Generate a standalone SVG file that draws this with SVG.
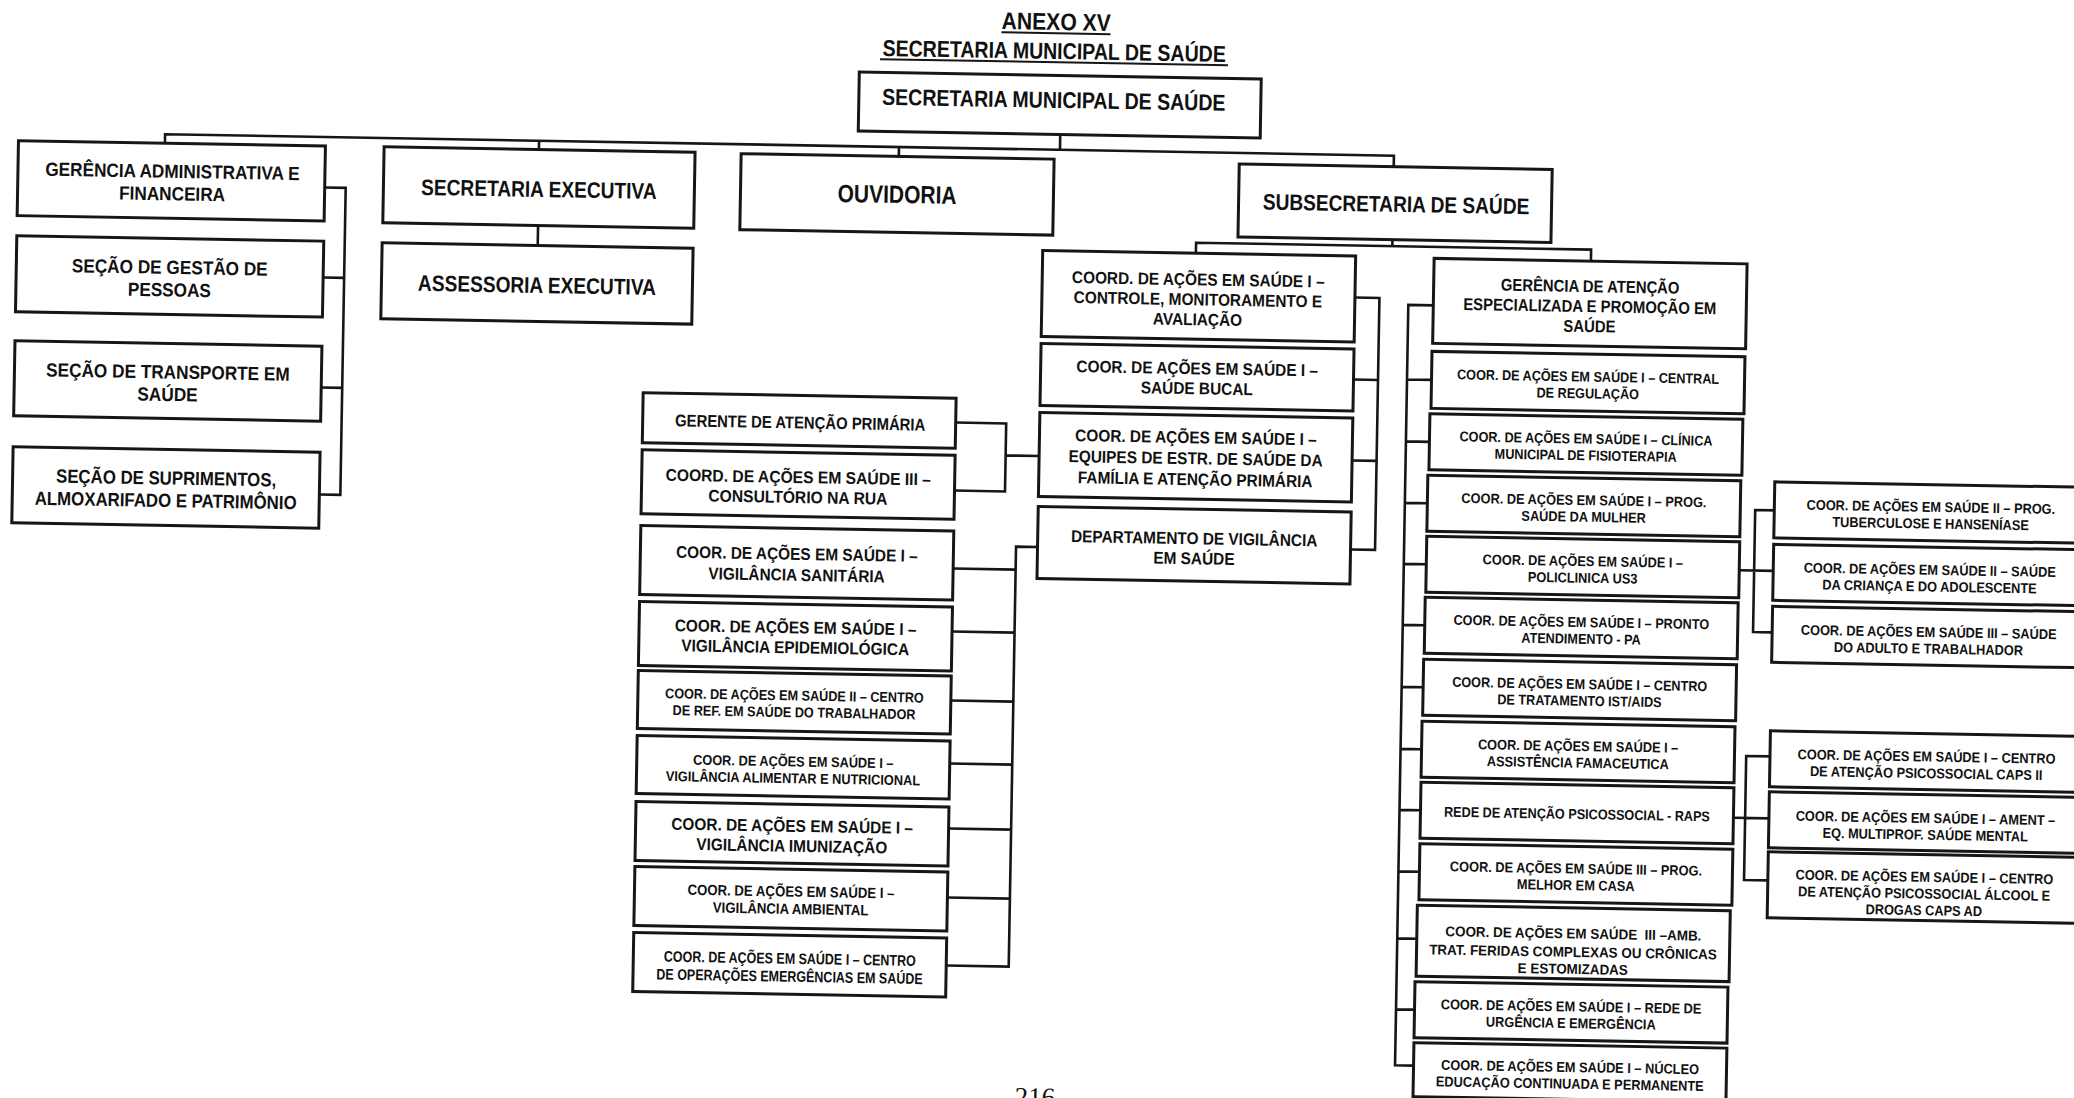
<svg xmlns="http://www.w3.org/2000/svg" width="2074" height="1098" viewBox="0 0 2074 1098">
<style>
.b{fill:#fff;stroke:#161616;stroke-width:3}
.c path{fill:none;stroke:#161616;stroke-width:2.6}
.u{stroke:#161616;stroke-width:2}
text{font-family:"Liberation Sans",Arial,sans-serif;font-weight:700;fill:#111;text-anchor:middle}
.a{font-size:25px}.d{font-size:23px}.e{font-size:22.5px}.f{font-size:19px}.g{font-size:17px}.h{font-size:17px}.k{font-size:14.2px}.m{font-size:14.8px}.n{font-size:15.3px}
.pg{font-family:"Liberation Serif","Times New Roman",serif;font-weight:400;font-size:27px}
</style>
<rect width="2074" height="1098" fill="#fff"/>
<g transform="rotate(1 1037 549)">
<g id="title">
<g transform="translate(1047 29.7) scale(.88 1)"><text style="font-size:24px">ANEXO XV</text></g>
<line class="u" x1="992.5" y1="33" x2="1101.5" y2="33"/>
<g transform="translate(1045.5 58.7) scale(.85 1)"><text class="d">SECRETARIA MUNICIPAL DE SAÚDE</text></g>
<line class="u" x1="871.5" y1="62" x2="1219.5" y2="62"/>
</g>
<g id="connectors" class="c">
<path d="M1053 134.1V149.5"/>
<path d="M158 158.5V149.5H1387V160.5"/>
<path d="M532 149.5V158.2"/>
<path d="M892 149.5V158.9"/>
<path d="M532.5 234.2V254.2"/>
<path d="M318.5 200H339.5V507H318.5M318.5 290H339.5M318.5 400H339.5"/>
<path d="M1387 233.5V240M1190.7 250.5V240H1585.8V251.5"/>
<path d="M1350.5 292H1375V544H1350.5M1350.5 374H1375M1350.5 455H1375"/>
<path d="M953.5 424H1004V492H953.5M1004 456H1037.5"/>
<path d="M1037.5 547H1016V967H953.5M953.5 570H1016M953.5 633H1016M953.5 702H1016M953.5 765H1016M953.5 830H1016M953.5 899H1016"/>
<path d="M1429 298.5H1404V1059H1422.5M1428.5 373H1404M1427.5 435H1404M1426.5 496.5H1404M1426.5 557.5H1404M1426 618.5H1404M1425.5 680.5H1404M1425 742.5H1404M1425 803.5H1404M1425 865H1404M1423.5 932H1404M1422.5 1003H1404"/>
<path d="M1773.5 497.5H1754.4V619.5H1773.5M1739.5 558H1773.5"/>
<path d="M1773.5 743.6H1749.7V867.6H1773.5M1738 805.6H1773.5"/>
</g>
<g id="n-sms"><rect class="b" x="851" y="75.1" width="402" height="59"/><g transform="translate(1046 104.6) scale(.85 1)"><text class="d" y="3">SECRETARIA MUNICIPAL DE SAÚDE</text></g></g>
<g id="n-gaf"><rect class="b" x="11.5" y="158.5" width="307" height="75"/><g transform="translate(166 196) scale(.906 1)"><text class="f" y="-3">GERÊNCIA ADMINISTRATIVA E</text><text class="f" y="19.5">FINANCEIRA</text></g></g>
<g id="n-sgp"><rect class="b" x="11.5" y="253.6" width="307" height="76"/><g transform="translate(165 291.6) scale(.906 1)"><text class="f" y="-2.5">SEÇÃO DE GESTÃO DE</text><text class="f" y="20">PESSOAS</text></g></g>
<g id="n-sts"><rect class="b" x="11.5" y="358.7" width="307" height="75"/><g transform="translate(165 396.2) scale(.906 1)"><text class="f" y="-2.5">SEÇÃO DE TRANSPORTE EM</text><text class="f" y="20">SAÚDE</text></g></g>
<g id="n-ssa"><rect class="b" x="11.5" y="464.7" width="307" height="76"/><g transform="translate(165 502.7) scale(.885 1)"><text class="f" y="-3">SEÇÃO DE SUPRIMENTOS,</text><text class="f" y="19.5">ALMOXARIFADO E PATRIMÔNIO</text></g></g>
<g id="n-se"><rect class="b" x="377.2" y="158.2" width="311" height="76"/><g transform="translate(532.7 196.2) scale(.85 1)"><text class="e" y="9.5">SECRETARIA EXECUTIVA</text></g></g>
<g id="n-ae"><rect class="b" x="376.9" y="254.2" width="311" height="76"/><g transform="translate(532.4 292.2) scale(.85 1)"><text class="e" y="9.5">ASSESSORIA EXECUTIVA</text></g></g>
<g id="n-ouv"><rect class="b" x="734.3" y="158.9" width="313" height="76"/><g transform="translate(891 196.9) scale(.84 1)"><text class="a" y="8.5">OUVIDORIA</text></g></g>
<g id="n-sub"><rect class="b" x="1232.5" y="160.5" width="313" height="73"/><g transform="translate(1390 197) scale(.85 1)"><text class="e" y="8.7">SUBSECRETARIA DE SAÚDE</text></g></g>
<g id="n-cma"><rect class="b" x="1037.5" y="250.5" width="313" height="86"/><g transform="translate(1193.5 293.5) scale(.906 1)"><text class="g" y="-11">COORD. DE AÇÕES EM SAÚDE I –</text><text class="g" y="9">CONTROLE, MONITORAMENTO E</text><text class="g" y="29">AVALIAÇÃO</text></g></g>
<g id="n-sb"><rect class="b" x="1037.5" y="343.5" width="313" height="62"/><g transform="translate(1194 374.5) scale(.906 1)"><text class="g" y="-3">COOR. DE AÇÕES EM SAÚDE I –</text><text class="g" y="17">SAÚDE BUCAL</text></g></g>
<g id="n-eq"><rect class="b" x="1037.5" y="412.5" width="313" height="84"/><g transform="translate(1194 454.5) scale(.906 1)"><text class="g" y="-14">COOR. DE AÇÕES EM SAÚDE I –</text><text class="g" y="7">EQUIPES DE ESTR. DE SAÚDE DA</text><text class="g" y="28">FAMÍLIA E ATENÇÃO PRIMÁRIA</text></g></g>
<g id="n-dvs"><rect class="b" x="1037.5" y="506.5" width="313" height="72"/><g transform="translate(1194 542.5) scale(.906 1)"><text class="g" y="-1">DEPARTAMENTO DE VIGILÂNCIA</text><text class="g" y="19">EM SAÚDE</text></g></g>
<g id="n-gap"><rect class="b" x="640.5" y="399.6" width="313" height="50"/><g transform="translate(798 424.6) scale(.875 1)"><text class="h" y="8">GERENTE DE ATENÇÃO PRIMÁRIA</text></g></g>
<g id="n-ccr"><rect class="b" x="640.5" y="456.7" width="313" height="64"/><g transform="translate(797 488.7) scale(.921 1)"><text class="g" y="-1.5">COORD. DE AÇÕES EM SAÚDE III –</text><text class="g" y="18.5">CONSULTÓRIO NA RUA</text></g></g>
<g id="n-vs"><rect class="b" x="640.5" y="532.5" width="313" height="69"/><g transform="translate(797 567) scale(.906 1)"><text class="g" y="-3">COOR. DE AÇÕES EM SAÚDE I –</text><text class="g" y="18">VIGILÂNCIA SANITÁRIA</text></g></g>
<g id="n-ve"><rect class="b" x="640.5" y="608.5" width="313" height="64"/><g transform="translate(797 640.5) scale(.906 1)"><text class="g" y="-3">COOR. DE AÇÕES EM SAÚDE I –</text><text class="g" y="17">VIGILÂNCIA EPIDEMIOLÓGICA</text></g></g>
<g id="n-cr"><rect class="b" x="640.5" y="677.5" width="313" height="58"/><g transform="translate(797 706.5) scale(.89 1)"><text class="k" y="-1.9">COOR. DE AÇÕES EM SAÚDE II – CENTRO</text><text class="k" y="14.9">DE REF. EM SAÚDE DO TRABALHADOR</text></g></g>
<g id="n-va"><rect class="b" x="640.5" y="742.5" width="313" height="58"/><g transform="translate(797 771.5) scale(.9 1)"><text class="k" y="-0.9">COOR. DE AÇÕES EM SAÚDE I –</text><text class="k" y="15.9">VIGILÂNCIA ALIMENTAR E NUTRICIONAL</text></g></g>
<g id="n-vi"><rect class="b" x="640.5" y="808.5" width="313" height="59"/><g transform="translate(797 838) scale(.906 1)"><text class="g" y="-2">COOR. DE AÇÕES EM SAÚDE I –</text><text class="g" y="18">VIGILÂNCIA IMUNIZAÇÃO</text></g></g>
<g id="n-vam"><rect class="b" x="640.5" y="873.5" width="313" height="59"/><g transform="translate(797 903) scale(.892 1)"><text class="m" y="-2.2">COOR. DE AÇÕES EM SAÚDE I –</text><text class="m" y="15.2">VIGILÂNCIA AMBIENTAL</text></g></g>
<g id="n-coe"><rect class="b" x="640.5" y="939.5" width="313" height="59"/><g transform="translate(797 969) scale(.816 1)"><text class="n" y="-1">COOR. DE AÇÕES EM SAÚDE I – CENTRO</text><text class="n" y="17">DE OPERAÇÕES EMERGÊNCIAS EM SAÚDE</text></g></g>
<g id="n-gae"><rect class="b" x="1429" y="251.5" width="313" height="85"/><g transform="translate(1585.5 294) scale(.875 1)"><text class="h" y="-11.5">GERÊNCIA DE ATENÇÃO</text><text class="h" y="8.5">ESPECIALIZADA E PROMOÇÃO EM</text><text class="h" y="28.5">SAÚDE</text></g></g>
<g id="n-cre"><rect class="b" x="1428.5" y="344.5" width="313" height="57"/><g transform="translate(1585 373) scale(.89 1)"><text class="k" y="-1">COOR. DE AÇÕES EM SAÚDE I – CENTRAL</text><text class="k" y="15.7">DE REGULAÇÃO</text></g></g>
<g id="n-cmf"><rect class="b" x="1427.5" y="407" width="313" height="56"/><g transform="translate(1584 435) scale(.89 1)"><text class="k" y="-1">COOR. DE AÇÕES EM SAÚDE I – CLÍNICA</text><text class="k" y="15.7">MUNICIPAL DE FISIOTERAPIA</text></g></g>
<g id="n-psm"><rect class="b" x="1426.5" y="468.5" width="313" height="56"/><g transform="translate(1583 496.5) scale(.9 1)"><text class="k" y="-1">COOR. DE AÇÕES EM SAÚDE I – PROG.</text><text class="k" y="15.7">SAÚDE DA MULHER</text></g></g>
<g id="n-pol"><rect class="b" x="1426.5" y="529.5" width="313" height="56"/><g transform="translate(1583 557.5) scale(.9 1)"><text class="k" y="-1">COOR. DE AÇÕES EM SAÚDE I –</text><text class="k" y="15.7">POLICLINICA US3</text></g></g>
<g id="n-pa"><rect class="b" x="1426" y="590.5" width="313" height="56"/><g transform="translate(1582.5 618.5) scale(.89 1)"><text class="k" y="-1">COOR. DE AÇÕES EM SAÚDE I – PRONTO</text><text class="k" y="15.7">ATENDIMENTO - PA</text></g></g>
<g id="n-ist"><rect class="b" x="1425.5" y="652.5" width="313" height="56"/><g transform="translate(1582 680.5) scale(.89 1)"><text class="k" y="-1">COOR. DE AÇÕES EM SAÚDE I – CENTRO</text><text class="k" y="15.7">DE TRATAMENTO IST/AIDS</text></g></g>
<g id="n-af"><rect class="b" x="1425" y="714.5" width="313" height="56"/><g transform="translate(1581.5 742.5) scale(.9 1)"><text class="k" y="-1">COOR. DE AÇÕES EM SAÚDE I –</text><text class="k" y="15.7">ASSISTÊNCIA FAMACEUTICA</text></g></g>
<g id="n-raps"><rect class="b" x="1425" y="775.5" width="313" height="56"/><g transform="translate(1581.5 803.5) scale(.89 1)"><text class="k" y="6">REDE DE ATENÇÃO PSICOSSOCIAL - RAPS</text></g></g>
<g id="n-mec"><rect class="b" x="1425" y="837" width="313" height="56"/><g transform="translate(1581.5 865) scale(.9 1)"><text class="k" y="-1">COOR. DE AÇÕES EM SAÚDE III – PROG.</text><text class="k" y="15.7">MELHOR EM CASA</text></g></g>
<g id="n-fer"><rect class="b" x="1423.5" y="898.5" width="313" height="71"/><g transform="translate(1580 934) scale(.946 1)"><text class="k" y="-5" xml:space="preserve">COOR. DE AÇÕES EM SAÚDE  III –AMB.</text><text class="k" y="13.5">TRAT. FERIDAS COMPLEXAS OU CRÔNICAS</text><text class="k" y="30.5">E ESTOMIZADAS</text></g></g>
<g id="n-urg"><rect class="b" x="1422.5" y="975" width="313" height="56"/><g transform="translate(1579 1003) scale(.9 1)"><text class="k" y="-1">COOR. DE AÇÕES EM SAÚDE I – REDE DE</text><text class="k" y="15.7">URGÊNCIA E EMERGÊNCIA</text></g></g>
<g id="n-nuc"><rect class="b" x="1422.5" y="1036" width="313" height="54"/><g transform="translate(1579 1063) scale(.9 1)"><text class="k" y="-0.4">COOR. DE AÇÕES EM SAÚDE I – NÚCLEO</text><text class="k" y="16.3">EDUCAÇÃO CONTINUADA E PERMANENTE</text></g></g>
<g id="n-tub"><rect class="b" x="1773.5" y="469" width="313" height="56"/><g transform="translate(1930 497) scale(.9 1)"><text class="k" y="-0.8">COOR. DE AÇÕES EM SAÚDE II – PROG.</text><text class="k" y="15.9">TUBERCULOSE E HANSENÍASE</text></g></g>
<g id="n-cri"><rect class="b" x="1773.5" y="531.5" width="313" height="56"/><g transform="translate(1930 559.5) scale(.9 1)"><text class="k" y="-0.3">COOR. DE AÇÕES EM SAÚDE II – SAÚDE</text><text class="k" y="16.4">DA CRIANÇA E DO ADOLESCENTE</text></g></g>
<g id="n-adu"><rect class="b" x="1773.5" y="593.5" width="313" height="56"/><g transform="translate(1930 621.5) scale(.9 1)"><text class="k" y="-0.1">COOR. DE AÇÕES EM SAÚDE III – SAÚDE</text><text class="k" y="16.6">DO ADULTO E TRABALHADOR</text></g></g>
<g id="n-caps2"><rect class="b" x="1773.5" y="718" width="313" height="56"/><g transform="translate(1930 746) scale(.9 1)"><text class="k" y="-0.1">COOR. DE AÇÕES EM SAÚDE I – CENTRO</text><text class="k" y="16.6">DE ATENÇÃO PSICOSSOCIAL CAPS II</text></g></g>
<g id="n-ament"><rect class="b" x="1773.5" y="779" width="313" height="56"/><g transform="translate(1930 807) scale(.9 1)"><text class="k" y="0.4">COOR. DE AÇÕES EM SAÚDE I – AMENT –</text><text class="k" y="17.1">EQ. MULTIPROF. SAÚDE MENTAL</text></g></g>
<g id="n-capsad"><rect class="b" x="1773.5" y="839" width="313" height="66"/><g transform="translate(1930 872) scale(.9 1)"><text class="k" y="-5.7">COOR. DE AÇÕES EM SAÚDE I – CENTRO</text><text class="k" y="11">DE ATENÇÃO PSICOSSOCIAL ÁLCOOL E</text><text class="k" y="27.7">DROGAS CAPS AD</text></g></g>
<text class="pg" x="1044.5" y="1106">216</text>
</g>
</svg>
